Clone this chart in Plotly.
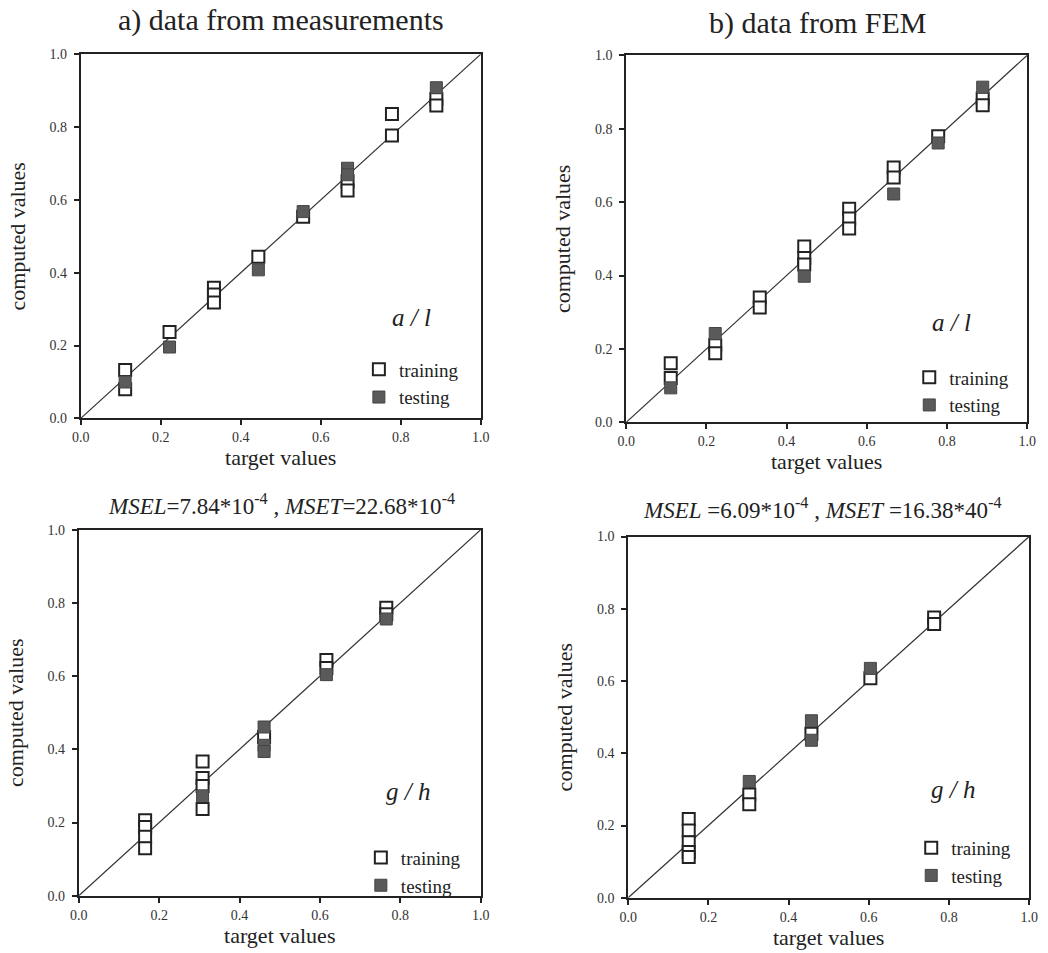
import plotly.graph_objects as go

# ---------------- data ----------------
diag = [0.0, 1.0]

train_a_x = [0.111, 0.111, 0.222, 0.333, 0.333, 0.333, 0.444, 0.556, 0.667, 0.667, 0.778, 0.778, 0.889, 0.889]
train_a_y = [0.133, 0.080, 0.237, 0.359, 0.340, 0.318, 0.444, 0.554, 0.651, 0.626, 0.836, 0.777, 0.877, 0.859]
test_a_x = [0.111, 0.222, 0.444, 0.556, 0.667, 0.667, 0.889]
test_a_y = [0.100, 0.196, 0.408, 0.568, 0.687, 0.669, 0.908]

train_b_x = [0.111, 0.111, 0.222, 0.222, 0.333, 0.333, 0.444, 0.444, 0.444, 0.556, 0.556, 0.556, 0.667, 0.667, 0.778, 0.889, 0.889]
train_b_y = [0.161, 0.121, 0.210, 0.188, 0.340, 0.313, 0.479, 0.448, 0.430, 0.582, 0.555, 0.528, 0.694, 0.667, 0.779, 0.882, 0.864]
test_b_x = [0.111, 0.222, 0.444, 0.667, 0.778, 0.889]
test_b_y = [0.094, 0.242, 0.398, 0.622, 0.761, 0.913]

train_c_x = [0.165, 0.165, 0.165, 0.165, 0.308, 0.308, 0.308, 0.308, 0.461, 0.616, 0.616, 0.765, 0.765]
train_c_y = [0.206, 0.188, 0.161, 0.130, 0.367, 0.322, 0.300, 0.237, 0.434, 0.644, 0.622, 0.787, 0.769]
test_c_x = [0.308, 0.461, 0.461, 0.461, 0.616, 0.765]
test_c_y = [0.273, 0.461, 0.411, 0.394, 0.604, 0.756]

train_d_x = [0.151, 0.151, 0.151, 0.151, 0.151, 0.302, 0.302, 0.457, 0.604, 0.763, 0.763]
train_d_y = [0.218, 0.186, 0.154, 0.127, 0.113, 0.286, 0.259, 0.454, 0.608, 0.776, 0.758]
test_d_x = [0.302, 0.457, 0.457, 0.604]
test_d_y = [0.322, 0.490, 0.436, 0.635]

tick_vals = [0.0, 0.2, 0.4, 0.6, 0.8, 1.0]
tick_text = ["0.0", "0.2", "0.4", "0.6", "0.8", "1.0"]

titles = ["a) data from measurements", "b) data from FEM",
          "<i>MSEL</i>=7.84*10<sup>-4</sup> , <i>MSET</i>=22.68*10<sup>-4</sup>",
          "<i>MSEL</i> =6.09*10<sup>-4</sup> , <i>MSET</i> =16.38*40<sup>-4</sup>"]
labels = ["<i>a / l</i>", "<i>a / l</i>", "<i>g / h</i>", "<i>g / h</i>"]

# ---------------- layout geometry ----------------
W, H = 1048, 953
FONT = "Liberation Serif, Times New Roman, serif"
INK = "#222222"
GRAY = "#5a5a5a"

panels = [
    dict(px=(73, 480), py=(48, 418), tr=(train_a_x, train_a_y), te=(test_a_x, test_a_y),
         title_xy=(277, 13), title_size=30, lab=(0.828, 0.278), leg=(356, 349)),
    dict(px=(628, 1036), py=(49, 422), tr=(train_b_x, train_b_y), te=(test_b_x, test_b_y),
         title_xy=(823, 16), title_size=30, lab=(0.811, 0.273), leg=(916, 357)),
    dict(px=(71, 480), py=(531, 903), tr=(train_c_x, train_c_y), te=(test_c_x, test_c_y),
         title_xy=(277, 505), title_size=23, lab=(0.819, 0.285), leg=(358, 845)),
    dict(px=(630, 1038), py=(538, 905), tr=(train_d_x, train_d_y), te=(test_d_x, test_d_y),
         title_xy=(828, 510), title_size=23, lab=(0.809, 0.300), leg=(918, 835)),
]

fig = go.Figure()
layout = dict(
    width=W, height=H, margin=dict(l=0, r=0, t=0, b=0),
    paper_bgcolor="white", plot_bgcolor="white",
    font=dict(family=FONT, color=INK),
    annotations=[],
)

for i, p in enumerate(panels):
    n = "" if i == 0 else str(i + 1)
    xa, ya = "x" + n, "y" + n
    lg = "legend" + n
    x0, x1 = p["px"][0] / W, p["px"][1] / W
    y0, y1 = 1 - p["py"][1] / H, 1 - p["py"][0] / H
    axis_common = dict(
        range=[0, 1], tickvals=tick_vals, ticktext=tick_text,
        ticks="outside", ticklen=5, tickwidth=1.5, tickcolor=INK,
        showline=True, linecolor=INK, linewidth=2, mirror=True,
        showgrid=False, zeroline=False,
        tickfont=dict(family=FONT, size=14, color="#333333"),
        title_font=dict(family=FONT, size=22, color=INK),
    )
    layout["xaxis" + n] = dict(axis_common, domain=[x0, x1], anchor=ya,
                               title=dict(text="target values", standoff=4))
    layout["yaxis" + n] = dict(axis_common, domain=[y0, y1], anchor=xa,
                               ticklabelstandoff=4,
                               title=dict(text="computed values", standoff=18))

    fig.add_trace(go.Scatter(x=diag, y=diag, mode="lines", xaxis=xa, yaxis=ya,
                             line=dict(color="#333333", width=1.2), showlegend=False))
    fig.add_trace(go.Scatter(x=p["tr"][0], y=p["tr"][1], mode="markers", name="training",
                             xaxis=xa, yaxis=ya, legend=lg,
                             marker=dict(symbol="square", size=12, color="white",
                                         line=dict(color=INK, width=2))))
    fig.add_trace(go.Scatter(x=p["te"][0], y=p["te"][1], mode="markers", name="testing",
                             xaxis=xa, yaxis=ya, legend=lg,
                             marker=dict(symbol="square", size=12, color=GRAY,
                                         line=dict(color="#444444", width=1))))

    layout[lg] = dict(x=p["leg"][0] / W, y=1 - p["leg"][1] / H, xanchor="left", yanchor="top",
                      bgcolor="rgba(0,0,0,0)", font=dict(family=FONT, size=19, color=INK),
                      itemwidth=30, tracegroupgap=0, traceorder="normal")

    layout["annotations"].append(dict(
        text=titles[i], x=p["title_xy"][0] / W, y=1 - p["title_xy"][1] / H,
        xref="paper", yref="paper", showarrow=False, xanchor="center", yanchor="middle",
        font=dict(family=FONT, size=p["title_size"], color=INK)))
    layout["annotations"].append(dict(
        text=labels[i], x=p["lab"][0], y=p["lab"][1], xref=xa + " domain", yref=ya + " domain",
        showarrow=False, xanchor="center", yanchor="middle",
        font=dict(family=FONT, size=25, color=INK)))

fig.update_layout(**layout)
fig.write_html("out.html")
